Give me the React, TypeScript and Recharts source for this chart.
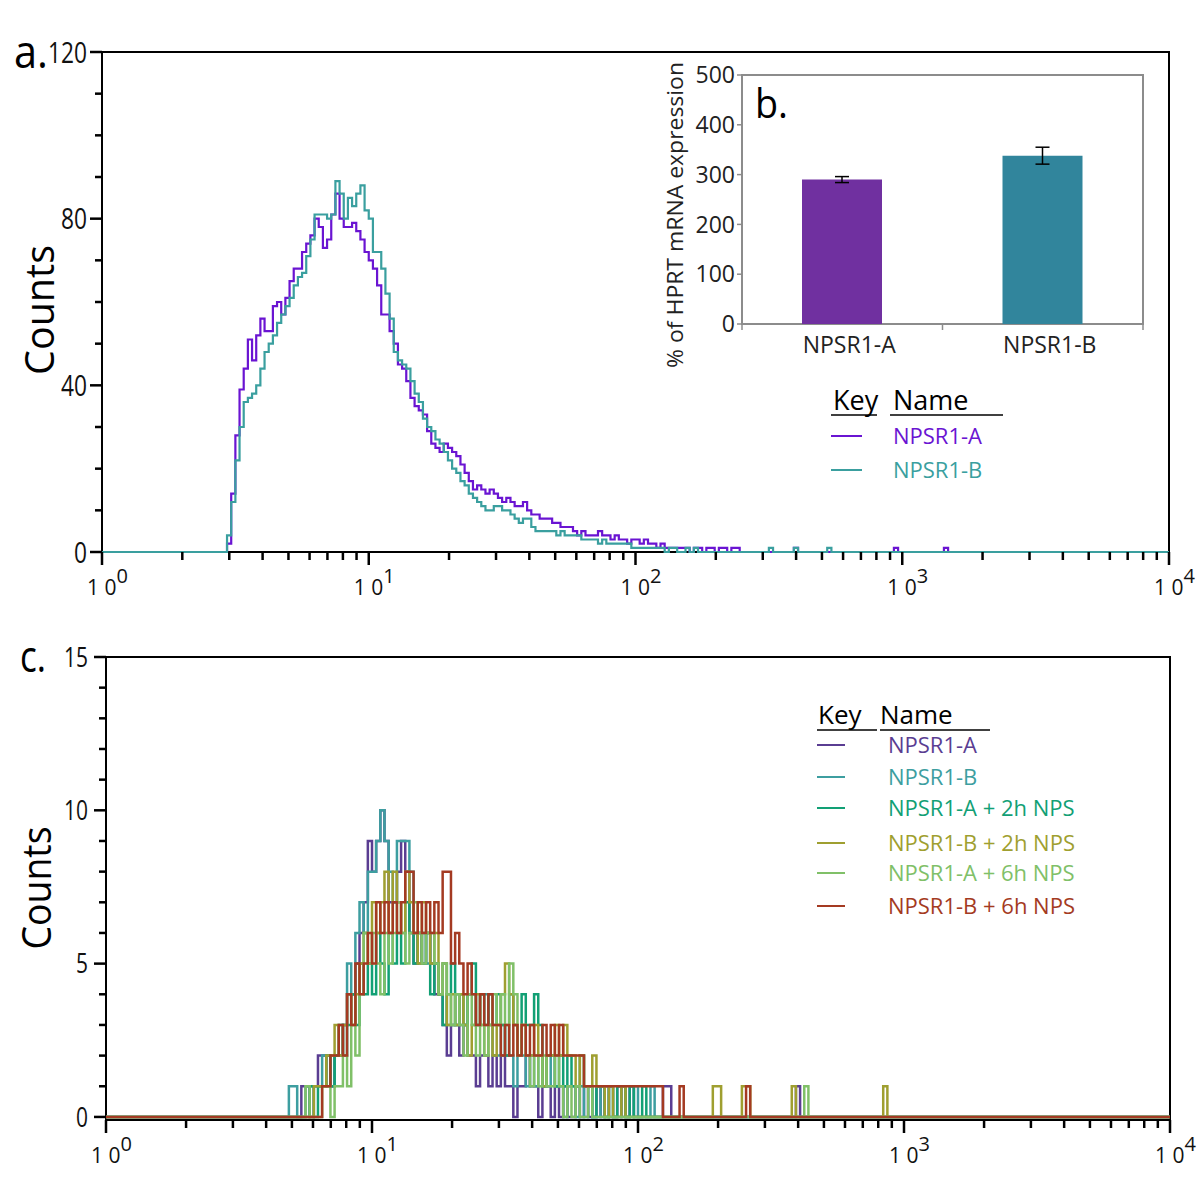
import React from 'react';
import {
  LineChart, Line, XAxis, YAxis, ReferenceArea,
  BarChart, Bar, ErrorBar, Cell,
} from 'recharts';

const FONT = '"Open Sans", "DejaVu Sans", sans-serif';

// 256 histogram channels spread over four log decades
const CHANNELS = 256;
const CH_PER_DECADE = 64;
const DECADE_EXPONENTS = ['0', '1', '2', '3', '4'];

// ---- panel a: counts per channel, first value is channel 28
const PANEL_A_START = 28;
const A_NPSR1_A = [
  0, 0, 2, 14, 28, 39, 44, 51, 46, 52,
  56, 53, 53, 59, 60, 57, 61, 65, 68, 68,
  72, 74, 76, 80, 78, 73, 75, 81, 86, 80,
  78, 78, 79, 77, 75, 72, 70, 68, 64, 57,
  57, 53, 50, 45, 44, 41, 37, 35, 34, 33,
  29, 26, 25, 24, 26, 25, 24, 23, 21, 19,
  17, 15, 16, 15, 14, 15, 14, 13, 12, 13,
  12, 11, 11, 12, 10, 9, 9, 8, 8, 8,
  7, 7, 6, 6, 6, 5, 4, 5, 4, 4,
  4, 5, 4, 4, 3, 4, 3, 3, 2, 3,
  3, 2, 3, 2, 2, 1, 2, 1, 1, 1,
  1, 1, 1, 0, 1, 1, 0, 1, 1, 0,
  1, 1, 0, 1, 1,
];
const A_NPSR1_B = [
  0, 0, 4, 12, 22, 30, 36, 37, 38, 40,
  44, 48, 50, 52, 55, 57, 59, 61, 64, 66,
  67, 71, 75, 81, 81, 81, 80, 81, 89, 86,
  80, 85, 83, 86, 88, 82, 80, 72, 72, 68,
  62, 56, 48, 46, 45, 44, 41, 38, 36, 32,
  30, 29, 27, 26, 24, 22, 20, 19, 17, 16,
  14, 13, 12, 11, 10, 10, 11, 11, 10, 10,
  9, 8, 7, 8, 8, 6, 5, 5, 5, 5,
  5, 4, 5, 4, 4, 4, 4, 3, 3, 3,
  3, 2, 3, 2, 2, 2, 2, 2, 2, 1,
  1, 1, 1, 1, 1, 1, 1, 0, 1, 1,
  0, 0, 1, 0, 1,
];
// isolated single events further out (channel numbers)
const A_NPSR1_A_EVENTS = [166, 190, 202];
const A_NPSR1_B_EVENTS = [160, 166, 174];

// ---- panel b: qPCR
const BAR_NAMES = ['NPSR1-A', 'NPSR1-B'];
const BAR_VALUES = [290, 338];
const BAR_ERRORS = [6, 17];
const BAR_TICKS = [0, 100, 200, 300, 400, 500];

// ---- panel c: counts per channel, first value is channel 42
const PANEL_C_START = 42;
const C_NAMES = [
  'NPSR1-A', 'NPSR1-B', 'NPSR1-A + 2h NPS',
  'NPSR1-B + 2h NPS', 'NPSR1-A + 6h NPS', 'NPSR1-B + 6h NPS',
];
const C_A = [
  0, 0, 0, 0, 0, 1, 1, 0, 1, 2,
  2, 1, 1, 2, 2, 3, 4, 4, 5, 6,
  7, 9, 8, 9, 10, 9, 7, 7, 8, 9,
  8, 6, 5, 6, 5, 6, 5, 4, 4, 3,
  2, 3, 3, 2, 3, 2, 2, 1, 2, 2,
  1, 2, 1, 2, 1, 1, 0, 1, 1, 2,
  1, 1, 0, 1, 1, 0, 1, 0, 1, 0,
  0, 1, 0, 1, 0, 0, 1, 0, 1, 0, 0, 1,
];
const C_B = [
  0, 0, 1, 1, 0, 0, 1, 1, 1, 1,
  2, 2, 1, 2, 2, 3, 5, 4, 6, 7,
  6, 8, 8, 9, 10, 9, 8, 7, 9, 9,
  9, 8, 6, 5, 6, 5, 5, 5, 4, 5,
  3, 3, 4, 3, 3, 4, 4, 3, 4, 4,
  3, 2, 2, 3, 2, 2, 1, 2, 2, 1,
  2, 1, 2, 1, 1, 2, 1, 1, 0, 1,
  1, 0, 1, 0, 1, 0, 0, 1, 0, 1,
];
const C_A_2H = [
  0, 0, 0, 0, 0, 0, 0, 1, 0, 1,
  1, 2, 1, 2, 3, 2, 3, 4, 3, 5,
  4, 5, 4, 6, 5, 4, 6, 5, 6, 5,
  7, 6, 5, 6, 5, 6, 4, 5, 4, 3,
  4, 5, 3, 4, 3, 4, 5, 3, 4, 3,
  4, 3, 4, 3, 2, 4, 3, 2, 4, 3,
  3, 4, 3, 1, 2, 2, 1, 2, 1, 2,
  1, 1, 2, 1, 1, 0, 1, 1, 0, 1,
];
const C_B_2H = [
  0, 0, 0, 0, 0, 0, 0, 0, 1, 1,
  1, 2, 2, 3, 2, 3, 4, 3, 4, 5,
  6, 5, 7, 6, 7, 8, 6, 8, 7, 6,
  8, 7, 6, 5, 7, 6, 5, 6, 4, 5,
  3, 4, 3, 4, 3, 2, 3, 4, 3, 2,
  3, 2, 3, 4, 5, 4, 3, 2, 3, 2,
  2, 3, 2, 1, 2, 2, 3, 2, 3, 2,
  2, 1, 2, 1, 1, 2, 1, 1, 0, 1,
];
const C_A_6H = [
  0, 0, 0, 0, 0, 0, 1, 0, 0, 0,
  1, 1, 0, 1, 1, 2, 1, 3, 2, 4,
  6, 5, 6, 5, 4, 6, 5, 6, 7, 6,
  5, 6, 7, 6, 5, 6, 6, 5, 4, 5,
  4, 3, 4, 3, 2, 4, 3, 2, 3, 2,
  3, 4, 3, 4, 3, 5, 4, 2, 3, 2,
  1, 2, 1, 2, 1, 1, 2, 1, 0, 1,
];
const C_B_6H = [
  0, 0, 0, 0, 0, 0, 0, 0, 0, 0,
  1, 1, 2, 2, 3, 2, 4, 3, 5, 4,
  5, 6, 5, 7, 6, 7, 6, 7, 6, 7,
  8, 8, 6, 7, 6, 7, 6, 7, 6, 8,
  8, 5, 6, 5, 4, 5, 4, 3, 4, 3,
  4, 3, 3, 2, 3, 2, 3, 2, 3, 2,
  3, 2, 2, 3, 2, 3, 2, 3, 2, 2,
  2, 2, 2, 1, 1, 1, 1, 1, 1, 1,
  1, 1, 1, 1, 1, 1, 1, 1, 1, 1, 1, 1,
];
const C_A_EVENTS = [126, 134, 135, 166];
const C_B_EVENTS = [124, 127, 131];
const C_A_2H_EVENTS = [123, 124, 126, 129];
const C_B_2H_EVENTS = [124, 146, 147, 153, 154, 165, 187];
const C_A_6H_EVENTS = [113, 116, 168];
const C_B_6H_EVENTS = [138, 154];

const A_COLORS = ['#6a14d2', '#3a9f9f'];
const C_COLORS = ['#5a3d92', '#3d9ea0', '#12a075', '#9f9f30', '#80c068', '#a43a22'];

const toChannels = (start: number, counts: number[], events: number[]) => {
  const out = new Array(CHANNELS + 1).fill(0);
  counts.forEach((c, i) => { out[start + i] = c; });
  events.forEach((ch) => { out[ch] += 1; });
  return out;
};

const histA = [
  toChannels(PANEL_A_START, A_NPSR1_A, A_NPSR1_A_EVENTS),
  toChannels(PANEL_A_START, A_NPSR1_B, A_NPSR1_B_EVENTS),
];
const histC = [
  toChannels(PANEL_C_START, C_A, C_A_EVENTS),
  toChannels(PANEL_C_START, C_B, C_B_EVENTS),
  toChannels(PANEL_C_START, C_A_2H, C_A_2H_EVENTS),
  toChannels(PANEL_C_START, C_B_2H, C_B_2H_EVENTS),
  toChannels(PANEL_C_START, C_A_6H, C_A_6H_EVENTS),
  toChannels(PANEL_C_START, C_B_6H, C_B_6H_EVENTS),
];

const rowsA = histA[0].map((_, ch) => ({ ch, s0: histA[0][ch], s1: histA[1][ch] }));
const rowsC = histC[0].map((_, ch) => {
  const row: Record<string, number> = { ch };
  histC.forEach((h, i) => { row['s' + i] = h[ch]; });
  return row;
});
// pos = category centre on a 0..2 scale, used for the boundary ticks
const barRows = BAR_NAMES.map((name, i) => ({ name, pos: i + 0.5, value: BAR_VALUES[i], err: BAR_ERRORS[i] }));

// log-decade ticks expressed in channels
const LOG_TICKS: number[] = [];
for (let d = 0; d < 4; d++) {
  for (let k = 1; k < 10; k++) LOG_TICKS.push(CH_PER_DECADE * (d + Math.log10(k)));
}
LOG_TICKS.push(CHANNELS);

const range = (a: number, b: number, step: number) => {
  const out: number[] = [];
  for (let v = a; v <= b; v += step) out.push(v);
  return out;
};

function LogTick(props: any) {
  const { x, y, payload, labelDy } = props;
  const decade = payload.value / CH_PER_DECADE;
  const major = Math.abs(decade - Math.round(decade)) < 1e-6;
  return (
    <g>
      <line x1={x} x2={x} y1={y} y2={y + (major ? 13 : 8)} stroke="#000" strokeWidth={2.5} />
      {major && (
        <text x={x - 15} y={y + labelDy} fontSize={21} fontFamily={FONT} fill="#111">
          1 0<tspan dy={-12} fontSize={20}>{DECADE_EXPONENTS[Math.round(decade)]}</tspan>
        </text>
      )}
    </g>
  );
}

function CountTick(props: any) {
  const { x, y, payload, majors, fontSize, digitWidth, gap } = props;
  const v = payload.value;
  const major = majors.includes(v);
  const label = String(v);
  return (
    <g>
      <line x1={x - (major ? 12 : 7)} x2={x} y1={y} y2={y} stroke="#000" strokeWidth={2.5} />
      {major && (
        <text
          x={x - gap} y={y} dy="0.36em" textAnchor="end" fontSize={fontSize} fontFamily={FONT}
          textLength={label.length * digitWidth} lengthAdjust="spacingAndGlyphs" fill="#111"
        >
          {label}
        </text>
      )}
    </g>
  );
}

function BarYTick(props: any) {
  const { x, y, payload } = props;
  return (
    <g>
      <line x1={x - 5} x2={x} y1={y} y2={y} stroke="#8c8c8c" strokeWidth={1.5} />
      <text x={x - 7} y={y} dy="0.36em" textAnchor="end" fontSize={23} fontFamily={FONT} fill="#222">
        {payload.value}
      </text>
    </g>
  );
}

function BarXTick(props: any) {
  const { x, y, payload } = props;
  return (
    <text x={x + 7} y={y + 29} textAnchor="middle" fontSize={23} fontFamily={FONT} fill="#222">
      {payload.value}
    </text>
  );
}

function EdgeTick(props: any) {
  const { x, y } = props;
  return <line x1={x} x2={x} y1={y - 1} y2={y + 5} stroke="#8c8c8c" strokeWidth={1.5} />;
}

const LEGEND_C_Y = [745, 777, 808, 843, 873, 906];

export default function App() {
  return (
    <div style={{ position: 'relative', width: 1200, height: 1192, background: '#fff', fontFamily: FONT }}>
      <style>{'body{margin:0;background:#fff}'}</style>

      {/* panel a */}
      <div style={{ position: 'absolute', left: 0, top: 0 }}>
        <LineChart width={1200} height={600} data={rowsA} margin={{ top: 52, right: 31, bottom: 0, left: 0 }}>
          <XAxis
            dataKey="ch" type="number" domain={[0, CHANNELS]} ticks={LOG_TICKS} interval={0}
            height={48} axisLine={false} tickLine={false} tickSize={0} tickMargin={0}
            tick={(p: any) => <LogTick {...p} labelDy={43} />}
          />
          <YAxis
            type="number" domain={[0, 120]} ticks={range(0, 120, 10)} interval={0} width={102}
            axisLine={false} tickLine={false} tickSize={0} tickMargin={0}
            tick={(p: any) => <CountTick {...p} majors={[0, 40, 80, 120]} fontSize={30} digitWidth={13} gap={15} />}
          />
          <ReferenceArea x1={0} x2={CHANNELS} y1={0} y2={120} fill="none" stroke="#000" strokeWidth={2} />
          {A_COLORS.map((c, i) => (
            <Line
              key={i} type="stepAfter" dataKey={'s' + i} stroke={c} strokeWidth={2.2}
              dot={false} activeDot={false} isAnimationActive={false}
            />
          ))}
        </LineChart>
      </div>

      {/* panel b inset */}
      <div style={{ position: 'absolute', left: 640, top: 55 }}>
        <BarChart width={520} height={320} data={barRows} margin={{ top: 20, right: 17, bottom: 21, left: 0 }}>
          <XAxis
            xAxisId="edges" dataKey="pos" type="number" domain={[0, 2]} allowDataOverflow
            ticks={[0, 1, 2]} interval={0} height={29} axisLine={false} tickLine={false}
            tickSize={0} tickMargin={0} tick={(p: any) => <EdgeTick {...p} />}
          />
          <XAxis
            dataKey="name" height={1} axisLine={false} tickLine={false} tickSize={0} tickMargin={0}
            tick={(p: any) => <BarXTick {...p} />}
          />
          <YAxis
            type="number" domain={[0, 500]} ticks={BAR_TICKS} interval={0} width={102}
            axisLine={false} tickLine={false} tickSize={0} tickMargin={0}
            tick={(p: any) => <BarYTick {...p} />}
          />
          <ReferenceArea y1={0} y2={500} fill="none" stroke="#8c8c8c" strokeWidth={2} />
          <Bar dataKey="value" barSize={80} isAnimationActive={false}>
            <Cell fill="#7030a0" />
            <Cell fill="#31859c" />
            <ErrorBar dataKey="err" width={7} stroke="#000" strokeWidth={1.5} direction="y" />
          </Bar>
        </BarChart>
      </div>

      {/* panel c */}
      <div style={{ position: 'absolute', left: 0, top: 600 }}>
        <LineChart width={1200} height={592} data={rowsC} margin={{ top: 57, right: 30, bottom: 0, left: 0 }}>
          <XAxis
            dataKey="ch" type="number" domain={[0, CHANNELS]} ticks={LOG_TICKS} interval={0}
            height={72} axisLine={false} tickLine={false} tickSize={0} tickMargin={0}
            tick={(p: any) => <LogTick {...p} labelDy={43} />}
          />
          <YAxis
            type="number" domain={[-0.1, 15]} ticks={range(0, 15, 1)} interval={0} width={106}
            axisLine={false} tickLine={false} tickSize={0} tickMargin={0}
            tick={(p: any) => <CountTick {...p} majors={[0, 5, 10, 15]} fontSize={27} digitWidth={12} gap={18} />}
          />
          <ReferenceArea x1={0} x2={CHANNELS} y1={-0.1} y2={15} fill="none" stroke="#000" strokeWidth={2} />
          {C_COLORS.map((c, i) => (
            <Line
              key={i} type="stepAfter" dataKey={'s' + i} stroke={c} strokeWidth={2.5}
              dot={false} activeDot={false} isAnimationActive={false}
            />
          ))}
        </LineChart>
      </div>

      {/* labels and keys */}
      <svg width={1200} height={1192} style={{ position: 'absolute', left: 0, top: 0, pointerEvents: 'none' }}>
        <g fontFamily={FONT} fill="#000">
          <text x={14} y={68} fontSize={46} textLength={34} lengthAdjust="spacingAndGlyphs">a.</text>
          <text transform="translate(54,310) rotate(-90)" textAnchor="middle" fontSize={40}
            textLength={130} lengthAdjust="spacingAndGlyphs">Counts</text>

          <text x={755} y={118} fontSize={40} textLength={33} lengthAdjust="spacingAndGlyphs">b.</text>
          <text transform="translate(683,215) rotate(-90)" textAnchor="middle" fontSize={22} fill="#222"
            textLength={306} lengthAdjust="spacingAndGlyphs">% of HPRT mRNA expression</text>

          <text x={833} y={410} fontSize={27}>Key</text>
          <text x={893} y={410} fontSize={27}>Name</text>
          <line x1={831} x2={877} y1={415} y2={415} stroke="#000" strokeWidth={1.5} />
          <line x1={890} x2={1003} y1={415} y2={415} stroke="#000" strokeWidth={1.5} />
          {['NPSR1-A', 'NPSR1-B'].map((name, i) => (
            <g key={name}>
              <line x1={831} x2={862} y1={436 + i * 34} y2={436 + i * 34} stroke={A_COLORS[i]} strokeWidth={2} />
              <text x={893} y={444 + i * 34} fontSize={22} fill={A_COLORS[i]}>{name}</text>
            </g>
          ))}

          <text x={20} y={672} fontSize={44} textLength={26} lengthAdjust="spacingAndGlyphs">c.</text>
          <text transform="translate(51,888) rotate(-90)" textAnchor="middle" fontSize={40}
            textLength={123} lengthAdjust="spacingAndGlyphs">Counts</text>

          <text x={818} y={724} fontSize={26}>Key</text>
          <text x={880} y={724} fontSize={26}>Name</text>
          <line x1={817} x2={877} y1={730} y2={730} stroke="#000" strokeWidth={1.5} />
          <line x1={880} x2={990} y1={730} y2={730} stroke="#000" strokeWidth={1.5} />
          {C_NAMES.map((name, i) => (
            <g key={name}>
              <line x1={817} x2={845} y1={LEGEND_C_Y[i]} y2={LEGEND_C_Y[i]} stroke={C_COLORS[i]} strokeWidth={2} />
              <text x={888} y={LEGEND_C_Y[i] + 8} fontSize={22} fill={C_COLORS[i]}>{name}</text>
            </g>
          ))}
        </g>
      </svg>
    </div>
  );
}
